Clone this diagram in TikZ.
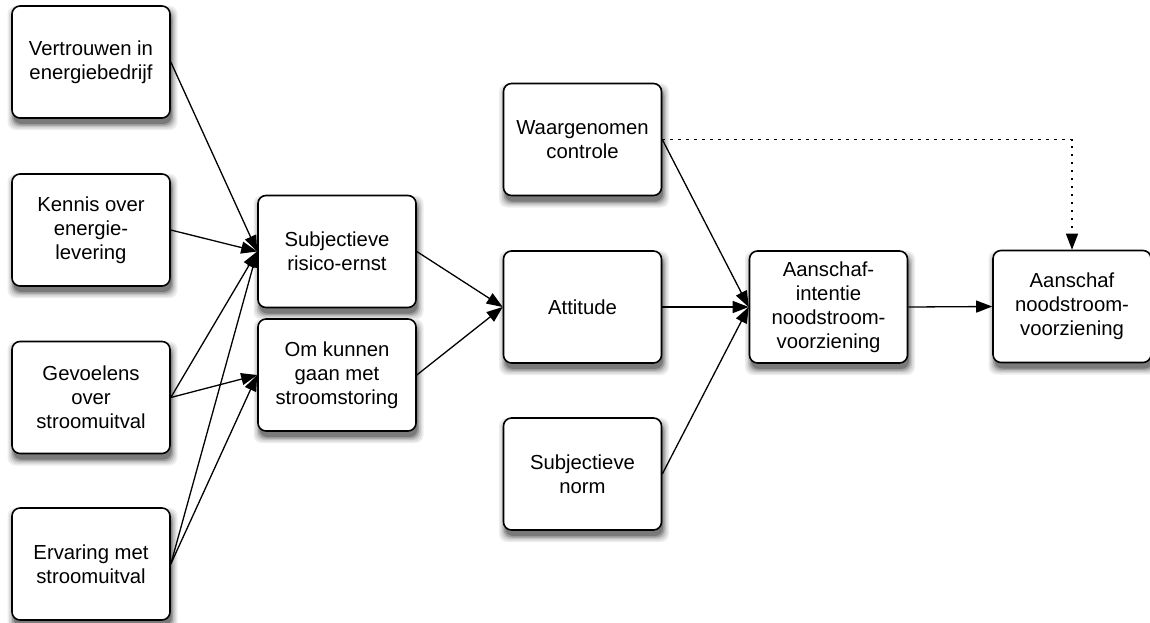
\documentclass[tikz,border=0pt]{standalone}
\usepackage{fontspec}
\setmainfont{Liberation Sans}
\usetikzlibrary{arrows.meta}
\definecolor{shadeA}{gray}{0.93}
\definecolor{shadeB}{gray}{0.86}
\definecolor{shadeC}{gray}{0.76}
\definecolor{shadeD}{gray}{0.62}
\definecolor{shadeE}{gray}{0.48}
\begin{document}
\begin{tikzpicture}[x=1pt,y=-1pt,
  box/.style={draw=black, line width=1.6pt, fill=white, rounded corners=8pt,
    minimum width=158pt, minimum height=112pt, inner sep=0pt, align=center,
    font=\fontsize{20.3}{24}\selectfont},
  link/.style={line width=1.3pt, -{Triangle[length=16pt,width=12pt]}},
  dotlink/.style={line width=1.3pt, dash pattern=on 2.5pt off 5.5pt,
    -{Triangle[length=16pt,width=12pt]}}]
\useasboundingbox (0,0) rectangle (1150,622);

% soft shadows: stacked grey rounded rectangles, offset down and right,
% drawn first so that the boxes cover them
\foreach \cx/\cy in {91/62, 91/230, 91/397.5, 91/564, 337/251.5, 337/375,
                     582.5/139.5, 582.5/307, 582.5/474, 828.5/307, 1072/306.5}{
  \foreach \col/\grow in {shadeA/6, shadeB/4.5, shadeC/3, shadeD/1.5, shadeE/0}{
    \fill[\col, rounded corners=8pt]
      (\cx-79+1.5-\grow, \cy-56+6-\grow) rectangle (\cx+79+1.5+\grow, \cy+56+6+\grow);
  }
}

% antecedents
\node[box] (vert)   at (91,62)    {Vertrouwen in\\energiebedrijf};
\node[box] (kennis) at (91,230)   {Kennis over\\energie-\\levering};
\node[box] (gevoel) at (91,397.5) {Gevoelens\\over\\stroomuitval};
\node[box] (erv)    at (91,564)   {Ervaring met\\stroomuitval};

% mediators
\node[box] (risico) at (337,251.5) {Subjectieve\\risico-ernst};
\node[box] (omgaan) at (337,375)   {Om kunnen\\gaan met\\stroomstoring};

% determinants of intention
\node[box] (contr) at (582.5,139.5) {Waargenomen\\controle};
\node[box] (att)   at (582.5,307)   {Attitude};
\node[box] (norm)  at (582.5,474)   {Subjectieve\\norm};

% intention and behaviour
\node[box] (intent) at (828.5,307) {Aanschaf-\\intentie\\noodstroom-\\voorziening};
\node[box] (koop)   at (1072,306.5) {Aanschaf\\noodstroom-\\voorziening};

% connectors
\draw[link] (vert.east)   -- (risico.west);
\draw[link] (kennis.east) -- (risico.west);
\draw[link] (gevoel.east) -- (risico.west);
\draw[link] (erv.east)    -- (risico.west);
\draw[link] (gevoel.east) -- (omgaan.west);
\draw[link] (erv.east)    -- (omgaan.west);

\draw[link] (risico.east) -- (att.west);
\draw[link] (omgaan.east) -- (att.west);

\draw[link] (contr.east) -- (intent.west);
\draw[link] (att.east)   -- (intent.west);
\draw[link] (norm.east)  -- (intent.west);

\draw[link] (intent.east) -- (koop.west);
\draw[dotlink] (contr.east) -- (koop.north |- contr.east) -- (koop.north);
\end{tikzpicture}
\end{document}
